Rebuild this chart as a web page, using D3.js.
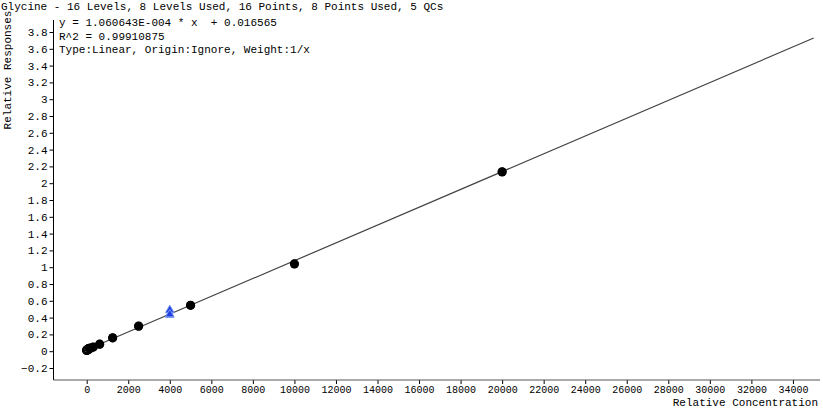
<!DOCTYPE html>
<html><head><meta charset="utf-8">
<script src="https://cdn.jsdelivr.net/npm/d3@7"></script>
<style>body{margin:0;background:#fff}svg{display:block}text{font-family:"Liberation Mono","DejaVu Sans Mono",monospace;fill:#000;white-space:pre}</style>
</head><body><svg id="c" width="823" height="412"></svg>
<script>
const title = "Glycine - 16 Levels, 8 Levels Used, 16 Points, 8 Points Used, 5 QCs";
const eqLines = ["y = 1.060643E-004 * x  + 0.016565", "R^2 = 0.99910875", "Type:Linear, Origin:Ignore, Weight:1/x"];
const slope = 1.060643e-4, intercept = 0.016565;
const usedX = [312.5, 312.5, 625, 625, 1250, 1250, 2500, 2500, 5000, 5000, 10000, 10000, 20000, 20000, 156, 156];
const usedY = [0.050, 0.048, 0.083, 0.085, 0.158, 0.160, 0.297, 0.300, 0.548, 0.545, 1.038, 1.040, 2.133, 2.137, 0.035, 0.037];
const unusedX = [0, 10, 20, 39, 78, 100, 60, 120];
const unusedY = [0.010, 0.012, 0.015, 0.018, 0.025, 0.030, 0.022, 0.028];
const qcX = [4000, 4000, 4000, 4000, 4000];
const qcY = [0.485, 0.490, 0.430, 0.435, 0.440];
const xTicks = d3.range(0, 34001, 2000);
const yTicks = d3.range(-0.2, 3.81, 0.2).map(v => +v.toFixed(1));

const FONT = '"Liberation Mono","DejaVu Sans Mono",monospace';
const svg = d3.select("#c");
const x = d3.scaleLinear().domain([0, 35000]).range([86.7, 813.7]);
const y = d3.scaleLinear().domain([0, 3.8]).range([351.2, 32]);
const plotTop = 20, plotBottom = 380, plotLeft = 53.5, plotRight = 820;

// axes
const yAxis = d3.axisLeft(y).tickValues(yTicks).tickSize(4).tickFormat(d => d3.format("")(d));
const gy = svg.append("g").attr("transform", `translate(${plotLeft},0)`).call(yAxis)
  .attr("font-family", FONT).attr("font-size", 11);
gy.select(".domain").remove();
gy.selectAll("text").attr("x", -6);
svg.append("line").attr("x1", plotLeft).attr("x2", plotLeft).attr("y1", plotTop).attr("y2", plotBottom).attr("stroke", "#000");

const xAxis = d3.axisBottom(x).tickValues(xTicks).tickSize(4).tickFormat(d3.format("d"));
const gx = svg.append("g").attr("transform", `translate(0,${plotBottom})`).call(xAxis)
  .attr("font-family", FONT).attr("font-size", 10);
gx.select(".domain").remove();
gx.selectAll("text").attr("y", 6);
svg.append("line").attr("x1", plotLeft).attr("x2", plotRight).attr("y1", plotBottom).attr("y2", plotBottom).attr("stroke", "#555");

// regression line
svg.append("line").attr("x1", x(0)).attr("y1", y(intercept))
  .attr("x2", x(35000)).attr("y2", y(slope * 35000 + intercept))
  .attr("stroke", "#444").attr("stroke-width", 1.2);

// unused points (open circles)
svg.append("g").selectAll("circle").data(unusedX.map((v, i) => [v, unusedY[i]])).join("circle")
  .attr("cx", d => x(d[0])).attr("cy", d => y(d[1])).attr("r", 4)
  .attr("fill", "#fff").attr("stroke", "#000").attr("stroke-width", 1.5);
// used points
svg.append("g").selectAll("circle").data(usedX.map((v, i) => [v, usedY[i]])).join("circle")
  .attr("cx", d => x(d[0])).attr("cy", d => y(d[1])).attr("r", 4.5).attr("fill", "#000");
// QC triangles
const tri = d3.symbol().type(d3.symbolTriangle).size(30);
svg.append("g").selectAll("path").data(qcX.map((v, i) => [v, qcY[i]])).join("path")
  .attr("d", tri).attr("transform", d => `translate(${x(d[0])},${y(d[1])})`)
  .attr("fill", "#1f3fe0").attr("stroke", "#7f9cf5").attr("stroke-width", 0.8);

// texts
svg.append("text").attr("x", 1).attr("y", 10).attr("font-size", 11).text(title);
eqLines.forEach((t, i) => svg.append("text").attr("x", 59).attr("y", 26 + i * 13.5).attr("font-size", 11).text(t));
svg.append("text").attr("transform", "translate(11,70) rotate(-90)").attr("text-anchor", "middle").attr("font-size", 11).text("Relative Responses");
svg.append("text").attr("x", 818).attr("y", 406).attr("text-anchor", "end").attr("font-size", 11).text("Relative Concentration");
</script></body></html>
